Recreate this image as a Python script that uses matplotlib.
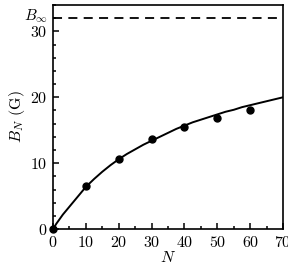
import matplotlib
matplotlib.use('Agg')
import matplotlib.pyplot as plt
from matplotlib.ticker import MultipleLocator

plt.rcParams['font.family'] = 'serif'
plt.rcParams['font.serif'] = ['cmr10']
plt.rcParams['mathtext.fontset'] = 'cm'
plt.rcParams['axes.formatter.use_mathtext'] = True

# measured points
N_data = [0, 10, 20, 30, 40, 50, 60]
B_data = [0, 6.6, 10.6, 13.6, 15.5, 16.9, 18.1]

# fitted curve
N_fit = [0, 0.5, 1, 2, 3, 4, 5, 6, 7.5, 10, 12.5, 15, 17.5, 20, 22.5, 25, 27.5,
         30, 32.5, 35, 37.5, 40, 42.5, 45, 47.5, 50, 52.5, 55, 57.5, 60,
         62.5, 65, 67.5, 70]
B_fit = [0, 0.4, 0.8, 1.5, 2.2, 2.8, 3.4, 4.0, 4.9, 6.4, 7.6, 8.7, 9.7, 10.6,
         11.4, 12.1, 12.8, 13.4, 14.0, 14.6, 15.2, 15.7, 16.2, 16.6, 17.0,
         17.4, 17.8, 18.1, 18.5, 18.8, 19.1, 19.4, 19.7, 20.0]

B_inf = 32

fig = plt.figure(figsize=(2.88, 2.77), dpi=100)
ax = fig.add_axes([0.184, 0.173, 0.799, 0.809])

ax.plot(N_fit, B_fit, 'k-', lw=1.4)
ax.plot(N_data, B_data, 'ko', ms=5, clip_on=False, zorder=5)
ax.axhline(B_inf, color='k', ls=(0, (5, 3.5)), lw=1.3)

ax.set_xlim(0, 70)
ax.set_ylim(0, 34)
ax.xaxis.set_major_locator(MultipleLocator(10))
ax.xaxis.set_minor_locator(MultipleLocator(5))
ax.yaxis.set_major_locator(MultipleLocator(10))
ax.yaxis.set_minor_locator(MultipleLocator(2))
ax.tick_params(which='both', direction='in', top=False, right=False,
               labelsize=11.5, width=1.1)
ax.tick_params(which='major', length=4.5, pad=4)
ax.tick_params(which='minor', length=2.5)
for s in ax.spines.values():
    s.set_linewidth(1.2)

ax.text(-1.5, B_inf + 0.3, r'$B_\infty$', ha='right', va='center', fontsize=11)
ax.set_xlabel(r'$N$', fontsize=11.5, labelpad=0)
ax.set_ylabel(r'$B_N$ (G)', fontsize=11.5, labelpad=2)

fig.savefig('out.png', dpi=100)
